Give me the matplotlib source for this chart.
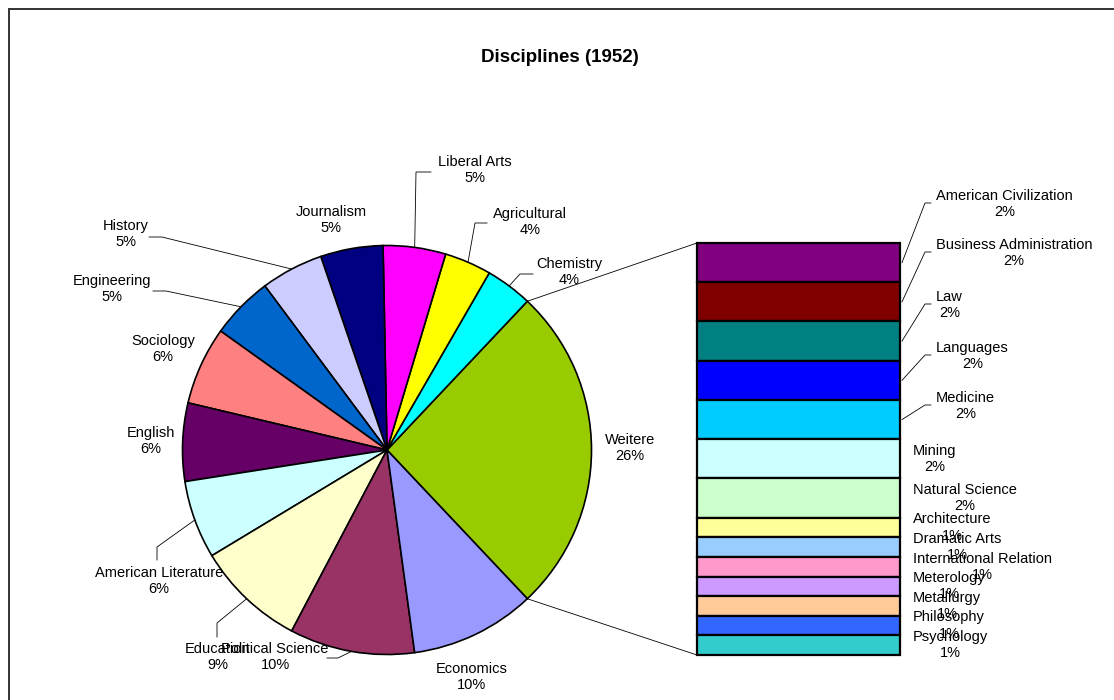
import math

import matplotlib.pyplot as plt
from matplotlib.patches import Rectangle

W, H = 1114, 700

# main pie (counts), counter-clockwise starting from the "Weitere" slice
PIE_LABELS = [
    "Chemistry", "Agricultural", "Liberal Arts", "Journalism", "History",
    "Engineering", "Sociology", "English", "American Literature",
    "Education", "Political Science", "Economics",
]
PIE_COUNTS = [3, 3, 4, 4, 4, 4, 5, 5, 5, 7, 8, 8]
PIE_COLORS = [
    "#00FFFF", "#FFFF00", "#FF00FF", "#000080", "#CCCCFF", "#0066CC",
    "#FF8080", "#660066", "#CCFFFF", "#FFFFCC", "#993366", "#9999FF",
]
OTHER_LABEL = "Weitere"
OTHER_COLOR = "#99CC00"

# breakdown of "Weitere", top to bottom
BAR_LABELS = [
    "American Civilization", "Business Administration", "Law", "Languages",
    "Medicine", "Mining", "Natural Science", "Architecture", "Dramatic Arts",
    "International Relation", "Meterology", "Metallurgy", "Philosophy",
    "Psychology",
]
BAR_COUNTS = [2, 2, 2, 2, 2, 2, 2, 1, 1, 1, 1, 1, 1, 1]
BAR_COLORS = [
    "#800080", "#800000", "#008080", "#0000FF", "#00CCFF", "#CCFFFF",
    "#CCFFCC", "#FFFF99", "#99CCFF", "#FF99CC", "#CC99FF", "#FFCC99",
    "#3366FF", "#33CCCC",
]

TITLE = "Disciplines (1952)"

# layout (pixel coords, y from top)
CX, CY, R = 387, 450, 204.5
BAR_X0, BAR_X1, BAR_TOP, BAR_BOT = 697, 900, 243, 655

PIE_LABEL_POS = {
    "Liberal Arts": (475, 170), "Agricultural": (530, 222),
    "Chemistry": (569, 272), "Weitere": (630, 448),
    "Journalism": (331, 220), "History": (126, 234),
    "Engineering": (112, 289), "Sociology": (163, 349),
    "English": (151, 441), "American Literature": (159, 581),
    "Education": (218, 657), "Political Science": (275, 657),
    "Economics": (472, 677),
}
PIE_LEADERS = {
    "Liberal Arts": [(416, 172), (431, 172)],
    "Agricultural": [(475, 223), (487, 223)],
    "Chemistry": [(520, 274), (533, 274)],
    "History": [(162, 237), (149, 237)],
    "Engineering": [(166, 291), (153, 291)],
    "American Literature": [(157, 547), (157, 560)],
    "Education": [(217, 623), (217, 637)],
    "Political Science": [(338, 658), (327, 658)],
}
BAR_LEADER_Y = {
    "American Civilization": 204, "Business Administration": 253,
    "Law": 305, "Languages": 356, "Medicine": 406,
}

plt.rcParams["font.family"] = ["Liberation Sans", "DejaVu Sans"]
FS = 10.5


def py(y):
    return H - y


fig = plt.figure(figsize=(W / 100, H / 100), dpi=100)
ax = fig.add_axes([0, 0, 1, 1])

total = sum(PIE_COUNTS) + sum(BAR_COUNTS)
other = sum(BAR_COUNTS)
values = [other] + PIE_COUNTS
labels = [OTHER_LABEL] + PIE_LABELS
colors = [OTHER_COLOR] + PIE_COLORS
start = -other / total * 360 / 2

wedges, _ = ax.pie(
    values, colors=colors, startangle=start, counterclock=True,
    center=(CX, py(CY)), radius=R,
    wedgeprops=dict(edgecolor="black", linewidth=1.2),
)

# pie labels
for w, lab, v in zip(wedges, labels, values):
    pct = f"{round(v / total * 100)}%"
    lx, ly = PIE_LABEL_POS[lab]
    ax.text(lx, py(ly), f"{lab}\n{pct}", ha="center", va="center",
            fontsize=FS, multialignment="center")
    if lab in PIE_LEADERS:
        mid = math.radians((w.theta1 + w.theta2) / 2)
        sx = CX + R * math.cos(mid)
        sy = py(CY) + R * math.sin(mid)
        pts = [(sx, sy)] + [(x, py(y)) for x, y in PIE_LEADERS[lab]]
        ax.plot([p[0] for p in pts], [p[1] for p in pts], color="black", lw=0.6)

# bar of the "Weitere" slice
unit = (BAR_BOT - BAR_TOP) / other
tops = []
acc = 0
for c in BAR_COUNTS:
    tops.append(py(BAR_TOP) - acc * unit)
    acc += c
heights = [c * unit for c in BAR_COUNTS]
bottoms = [t - h for t, h in zip(tops, heights)]
ax.bar([(BAR_X0 + BAR_X1) / 2] * len(BAR_COUNTS), heights, bottom=bottoms,
       width=BAR_X1 - BAR_X0, color=BAR_COLORS, edgecolor="black", linewidth=1.6)

for lab, c, b, h in zip(BAR_LABELS, BAR_COUNTS, bottoms, heights):
    pct = f"{round(c / total * 100)}%"
    mid_y = b + h / 2
    if lab in BAR_LEADER_Y:
        ly = py(BAR_LEADER_Y[lab])
        ax.plot([BAR_X1 + 2, 925, 931], [mid_y, ly + 1, ly + 1], color="black", lw=0.6)
        ax.text(936, ly, f"{lab}\n{pct}", ha="left", va="center",
                fontsize=FS, multialignment="center")
    else:
        ax.text(913, mid_y, f"{lab}\n{pct}", ha="left", va="center",
                fontsize=FS, multialignment="center")

# connector lines between the pie slice and the bar
a1 = math.radians(wedges[0].theta1)
a2 = math.radians(wedges[0].theta2)
ax.plot([CX + R * math.cos(a2), BAR_X0], [py(CY) + R * math.sin(a2), py(BAR_TOP)],
        color="black", lw=0.6)
ax.plot([CX + R * math.cos(a1), BAR_X0], [py(CY) + R * math.sin(a1), py(BAR_BOT)],
        color="black", lw=0.6)

ax.text(560, py(58), TITLE, ha="center", va="center", fontsize=13.5, fontweight="bold")

# chart area border (right and bottom edges fall outside the image)
ax.add_patch(Rectangle((8.5, -20), W + 20, py(8.5) + 20, fill=False,
                       edgecolor="#333333", linewidth=1.4, clip_on=False))

ax.set_xlim(0, W)
ax.set_ylim(0, H)
ax.set_aspect("auto")
ax.axis("off")

fig.savefig("out.png", dpi=100)
